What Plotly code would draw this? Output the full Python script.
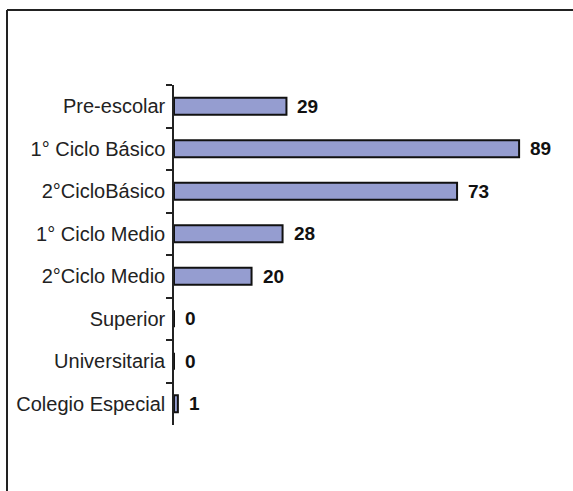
import plotly.graph_objects as go

categories = ["Pre-escolar", "1° Ciclo Básico", "2°CicloBásico", "1° Ciclo Medio",
              "2°Ciclo Medio", "Superior", "Universitaria", "Colegio Especial"]
values = [29, 89, 73, 28, 20, 0, 0, 1]

W, H = 573, 491
L, T, PW, PH = 174, 85, 380, 340
BX, BY = 7, 10  # outer frame position (px)

fig = go.Figure()
fig.add_trace(go.Bar(
    x=values, y=categories, orientation="h",
    marker=dict(color="#959DD0", line=dict(color="#111111", width=2)),
    width=0.4,
    hoverinfo="skip",
))

for c, v in zip(categories, values):
    fig.add_annotation(x=v, y=c, text=str(v), showarrow=False, xanchor="left",
                       xshift=9, font=dict(family="Liberation Sans, Arial", size=19,
                                           color="#111111", weight="bold"))

fig.update_layout(
    width=W, height=H,
    margin=dict(l=L, r=W - L - PW, t=T, b=H - T - PH),
    paper_bgcolor="white", plot_bgcolor="white",
    showlegend=False,
    font=dict(family="Liberation Sans, Arial", size=20, color="#222222"),
    xaxis=dict(range=[0, 98], visible=False, fixedrange=True),
    yaxis=dict(autorange="reversed", type="category", showline=True, linecolor="#222222",
               linewidth=1.5, ticks="outside", ticklen=6, tickcolor="#222222",
               tickwidth=1.5, tickson="boundaries", showgrid=False, zeroline=False,
               ticklabelstandoff=3, tickfont=dict(size=20), fixedrange=True),
    shapes=[
        dict(type="line", xref="paper", yref="paper", x0=-(L - BX) / PW, x1=(W - L) / PW,
             y0=1 + (T - BY) / PH, y1=1 + (T - BY) / PH, line=dict(color="#222222", width=2)),
        dict(type="line", xref="paper", yref="paper", x0=-(L - BX) / PW, x1=-(L - BX) / PW,
             y0=1 + (T - BY) / PH, y1=-(H - T - PH) / PH, line=dict(color="#222222", width=2)),
    ],
)

fig.write_html("out.html", config={"displayModeBar": False},
               post_script="document.body.style.margin='0';document.body.style.overflow='hidden';")
